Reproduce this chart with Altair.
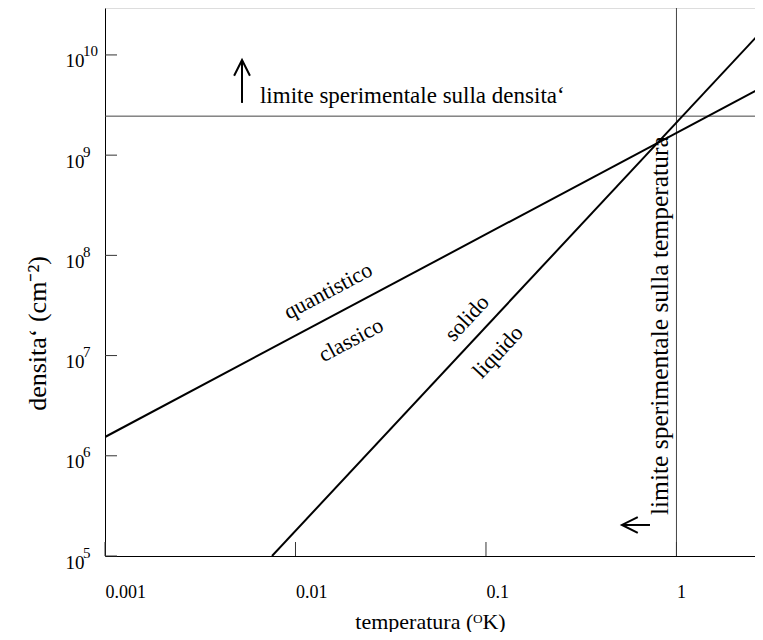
import altair as alt
import pandas as pd

# ---- data ----
Q_T = [0.001, 2.845]          # quantistico / classico line
Q_N = [1.54e6, 4.8e9]
S_T = [0.00753, 2.845]        # solido / liquido line
S_N = [1.0e5, 1.78e10]

X_TICKS = [0.001, 0.01, 0.1, 1]
X_TICK_LABELS = ["0.001", "0.01", "0.1", "1"]
Y_TICKS = [1e5, 1e6, 1e7, 1e8, 1e9, 1e10]
Y_TICK_BASE = ["10", "10", "10", "10", "10", "10"]
Y_TICK_EXP = ["5", "6", "7", "8", "9", "10"]

DENSITY_LIMIT = [2.45e9]
TEMP_LIMIT = [1.0]

LINE_LABELS = ["quantistico", "classico", "solido", "liquido"]
LINE_LABEL_T = [0.01481, 0.01956, 0.0794, 0.1156]
LINE_LABEL_N = [4.42e7, 1.43e7, 2.37e7, 1.09e7]
LINE_LABEL_ANGLE = [332, 332, 313, 313]

DENS_TEXT = ["limite sperimentale sulla densita‘"]
DENS_TEXT_T = [0.00651]
DENS_TEXT_N = [3.32e9]
DENS_ARROW_T = [0.00524]
DENS_ARROW_N = [3.32e9, 8.91e9]

TEMP_TEXT = ["limite sperimentale sulla temperatura"]
TEMP_TEXT_T = [0.902]
TEMP_TEXT_N = [2.56e5]
TEMP_ARROW_N = [2.04e5]
TEMP_ARROW_T = [0.5175, 0.726]

X_DOMAIN = [0.001, 2.584]
Y_DOMAIN = [1e5, 2.94e10]

W, H = 650, 548
FONT = "Liberation Serif"

# ---- scales / encodings ----
xs = alt.Scale(type="log", domain=X_DOMAIN, nice=False)
ys = alt.Scale(type="log", domain=Y_DOMAIN, nice=False)

x_label_expr = " : ".join(
    f"datum.value < {v * 1.5} ? '{l}'" for v, l in zip(X_TICKS[:-1], X_TICK_LABELS[:-1])
) + f" : '{X_TICK_LABELS[-1]}'"
y_label_expr = " : ".join(
    f"datum.value < {v * 1.5} ? '{l}'" for v, l in zip(Y_TICKS[:-1], Y_TICK_BASE[:-1])
) + f" : '{Y_TICK_BASE[-1]}'"

xaxis = alt.Axis(
    values=X_TICKS, labelExpr=x_label_expr, ticks=False, tickSize=0, grid=False,
    domainColor="black", domainWidth=1, labelFont=FONT, labelFontSize=18,
    labelColor="black", labelAlign="left", labelPadding=27,
    title="temperatura (ᴼK)", titleFont=FONT, titleFontSize=22,
    titleFontWeight="normal", titleColor="black",
    titleY=72, titleBaseline="alphabetic",
)
yaxis = alt.Axis(
    values=Y_TICKS, labelExpr=y_label_expr, ticks=False, tickSize=0, grid=False,
    domainColor="black", domainWidth=1, labelFont=FONT, labelFontSize=19,
    labelColor="black", labelAlign="left", labelBaseline="top", labelOffset=-3,
    labelPadding=40,
    title="densita‘ (cm⁻²)", titleFont=FONT, titleFontSize=26,
    titleFontWeight="normal", titleColor="black", titleAngle=270,
    titleX=-60, titleY=325, titleAlign="center", titleBaseline="alphabetic",
)

X = alt.X("T:Q", scale=xs, axis=xaxis)
Y = alt.Y("n:Q", scale=ys, axis=yaxis)

lines_df = pd.DataFrame({
    "T": Q_T + S_T,
    "n": Q_N + S_N,
    "line": ["q"] * len(Q_T) + ["s"] * len(S_T),
})

base_lines = alt.Chart(lines_df).mark_line(color="black", strokeWidth=2, clip=True).encode(
    x=X, y=Y, detail="line:N"
)

hline = alt.Chart(pd.DataFrame({"n": DENSITY_LIMIT})).mark_rule(
    color="#444444", strokeWidth=1
).encode(y=Y)
vline = alt.Chart(pd.DataFrame({"T": TEMP_LIMIT})).mark_rule(
    color="#444444", strokeWidth=1
).encode(x=X)

yticks = alt.Chart(pd.DataFrame({"n": Y_TICKS})).mark_rule(
    color="#333333", strokeWidth=1
).encode(y=Y, x=alt.value(0), x2=alt.value(12))
xticks = alt.Chart(pd.DataFrame({"T": X_TICKS})).mark_rule(
    color="#333333", strokeWidth=1
).encode(x=X, y=alt.value(H), y2=alt.value(H - 14))

yexp = alt.Chart(pd.DataFrame({"n": Y_TICKS, "e": Y_TICK_EXP})).mark_text(
    font=FONT, fontSize=15, color="black", align="left", baseline="alphabetic", dy=1.5
).encode(y=Y, x=alt.value(-22), text="e:N")

labels_df = pd.DataFrame({
    "T": LINE_LABEL_T, "n": LINE_LABEL_N,
    "label": LINE_LABELS, "angle": LINE_LABEL_ANGLE,
})
line_labels = alt.Chart(labels_df).mark_text(
    font=FONT, fontSize=22, color="black", align="center", baseline="middle"
).encode(x=X, y=Y, text="label:N", angle=alt.Angle("angle:Q", scale=None))

dens_text = alt.Chart(pd.DataFrame({"T": DENS_TEXT_T, "n": DENS_TEXT_N, "t": DENS_TEXT})).mark_text(
    font=FONT, fontSize=23, color="black", align="left", baseline="alphabetic"
).encode(x=X, y=Y, text="t:N")

temp_text = alt.Chart(pd.DataFrame({"T": TEMP_TEXT_T, "n": TEMP_TEXT_N, "t": TEMP_TEXT})).mark_text(
    font=FONT, fontSize=25.5, color="black", align="left", baseline="alphabetic", angle=270
).encode(x=X, y=Y, text="t:N")

dens_arrow = alt.Chart(pd.DataFrame({
    "T": DENS_ARROW_T * 2, "n": DENS_ARROW_N
})).mark_line(color="black", strokeWidth=2).encode(x=X, y=Y)
dens_head = alt.Chart(pd.DataFrame({"T": DENS_ARROW_T, "n": DENS_ARROW_N[-1:]})).mark_point(
    shape="M-0.5,1L0,0L0.5,1", size=1000, filled=False, color="black", strokeWidth=2, opacity=1
).encode(x=X, y=Y)

temp_arrow = alt.Chart(pd.DataFrame({
    "T": TEMP_ARROW_T, "n": TEMP_ARROW_N * 2
})).mark_line(color="black", strokeWidth=2).encode(x=X, y=Y)
temp_head = alt.Chart(pd.DataFrame({"T": TEMP_ARROW_T[:1], "n": TEMP_ARROW_N})).mark_point(
    shape="M1,-0.5L0,0L1,0.5", size=1000, filled=False, color="black", strokeWidth=2, opacity=1
).encode(x=X, y=Y)

chart = alt.layer(
    hline, vline, yticks, xticks, yexp, base_lines, line_labels,
    dens_text, temp_text, dens_arrow, dens_head, temp_arrow, temp_head,
).properties(
    width=W, height=H,
    autosize=alt.AutoSizeParams(type="none"),
    padding={"left": 97, "top": 0, "right": 0, "bottom": 76},
).configure_view(stroke=None).configure(background="white")

chart.save("out.html", embed_options={"renderer": "svg", "actions": False})
